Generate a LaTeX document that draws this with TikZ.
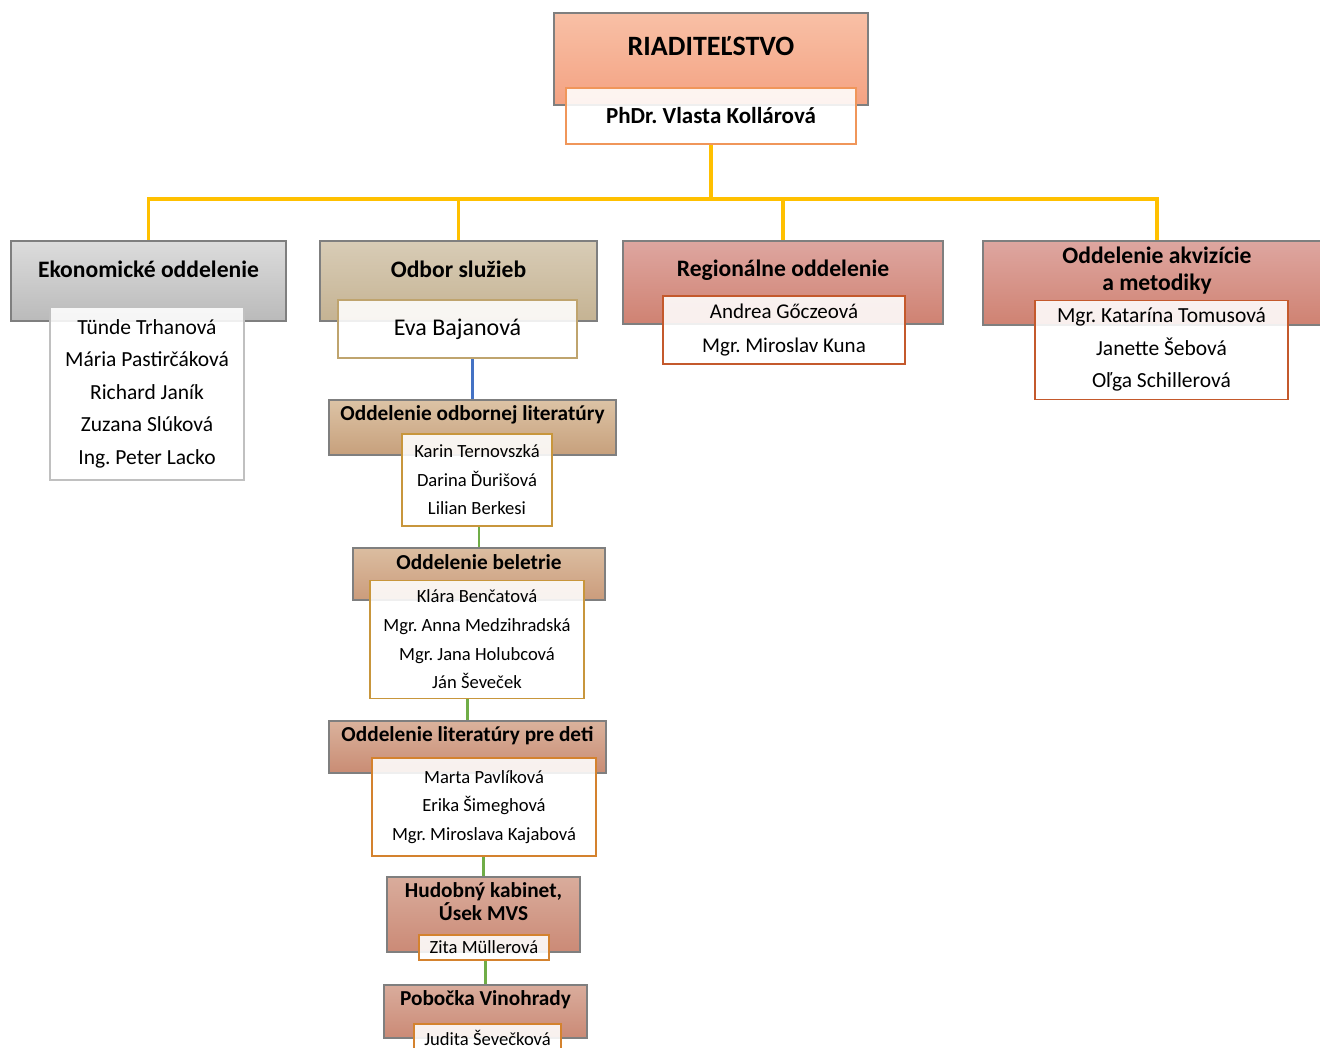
\documentclass[tikz,border=0pt]{standalone}
\usepackage{fontspec}
\setmainfont{Carlito}
\usetikzlibrary{backgrounds}
\frenchspacing
\definecolor{hdrline}{HTML}{7F7F7F}
\definecolor{yel}{HTML}{FFC000}
\definecolor{blu}{HTML}{4472C4}
\definecolor{grn}{HTML}{70AD47}
\definecolor{dirTop}{HTML}{F8C0A6}\definecolor{dirBot}{HTML}{F4A282}\definecolor{dirLn}{HTML}{F0965A}
\definecolor{ekoTop}{HTML}{DCDCDC}\definecolor{ekoBot}{HTML}{BABABA}\definecolor{ekoLn}{HTML}{C0C0C0}
\definecolor{sluTop}{HTML}{D8CCB6}\definecolor{sluBot}{HTML}{C5B393}\definecolor{sluLn}{HTML}{BFA46E}
\definecolor{regTop}{HTML}{DEA6A0}\definecolor{regBot}{HTML}{CF8272}\definecolor{regLn}{HTML}{C4592C}
\definecolor{odbTop}{HTML}{DCC3A5}\definecolor{odbBot}{HTML}{C7A07C}\definecolor{odbLn}{HTML}{C8963C}
\definecolor{belTop}{HTML}{DBBDA0}\definecolor{belBot}{HTML}{CB9C7C}
\definecolor{detTop}{HTML}{DAB29C}\definecolor{detBot}{HTML}{C98C74}\definecolor{detLn}{HTML}{D4822E}
\definecolor{hudTop}{HTML}{D9AC9C}\definecolor{hudBot}{HTML}{CB8A76}
\newcommand{\fs}[2]{\fontsize{#1}{#2}\selectfont}
\tikzset{
  hdr/.style={draw=hdrline, line width=1.2pt, shading=axis, inner sep=0pt},
  pbox/.style={draw=#1, line width=1.2pt, fill=white, fill opacity=0.88, text opacity=1, align=center, inner sep=0pt},
  htext/.style={align=center, inner sep=0pt},
  yline/.style={draw=yel, line width=3.2pt},
  bline/.style={draw=blu, line width=2.6pt},
  gline/.style={draw=grn, line width=2.6pt},
}
\begin{document}
\begin{tikzpicture}[x=1pt,y=-1pt]
\useasboundingbox (0,0) rectangle (1320,1048);
% director
\node[hdr, top color=dirTop, bottom color=dirBot, minimum width=314pt, minimum height=92pt] (dirH) at (711,59) {};
\node[htext, font=\bfseries\fs{28}{32}] (dirT) at (711,46) {RIADITEĽSTVO};
\node[pbox=dirLn, minimum width=290pt, minimum height=56pt, font=\bfseries\fs{23}{27}] (dirP) at (711,116) {PhDr. Vlasta Kollárová};
% level 1
\node[hdr, top color=ekoTop, bottom color=ekoBot, minimum width=275pt, minimum height=80pt] (ekoH) at (148.5,281) {};
\node[htext, font=\bfseries\fs{23.6}{27}] (ekoT) at (148.5,269) {Ekonomické oddelenie};
\node[pbox=ekoLn, minimum width=194pt, minimum height=173pt, font=\fs{21.5}{32.5}] (ekoP) at (147,393.5) {Tünde Trhanová\\Mária Pastirčáková\\Richard Janík\\Zuzana Slúková\\Ing. Peter Lacko};

\node[hdr, top color=sluTop, bottom color=sluBot, minimum width=277pt, minimum height=80pt] (sluH) at (458.5,281) {};
\node[htext, font=\bfseries\fs{23.6}{27}] (sluT) at (458.5,269) {Odbor služieb};
\node[pbox=sluLn, minimum width=239pt, minimum height=58pt, font=\fs{24}{28}] (sluP) at (457.5,329) {Eva Bajanová};

\node[hdr, top color=regTop, bottom color=regBot, minimum width=320pt, minimum height=83pt] (regH) at (783,282.5) {};
\node[htext, font=\bfseries\fs{23.6}{27}] (regT) at (783,270) {Regionálne oddelenie};
\node[pbox=regLn, minimum width=242pt, minimum height=68pt, font=\fs{21}{34}] (regP) at (784,330) {Andrea Gőczeová\\Mgr. Miroslav Kuna};

\node[hdr, top color=regTop, bottom color=regBot, minimum width=348pt, minimum height=84pt] (akvH) at (1157,283) {};
\node[htext, font=\bfseries\fs{23.6}{27}] (akvT) at (1157,271) {Oddelenie akvizície\\a metodiky};
\node[pbox=regLn, minimum width=253pt, minimum height=99pt, font=\fs{21.5}{32.5}] (akvP) at (1161.5,350) {Mgr. Katarína Tomusová\\Janette Šebová\\Oľga Schillerová};
% chain
\node[hdr, top color=odbTop, bottom color=odbBot, minimum width=287pt, minimum height=55pt] (odbH) at (472.5,427.5) {};
\node[htext, font=\bfseries\fs{21.3}{25}] (odbT) at (472.5,414.5) {Oddelenie odbornej literatúry};
\node[pbox=odbLn, minimum width=150pt, minimum height=92pt, font=\fs{18.6}{28.5}] (odbP) at (477,480) {Karin Ternovszká\\Darina Ďurišová\\Lilian Berkesi};

\node[hdr, top color=belTop, bottom color=belBot, minimum width=252pt, minimum height=52pt] (belH) at (479,574) {};
\node[htext, font=\bfseries\fs{21.3}{25}] (belT) at (479,562.5) {Oddelenie beletrie};
\node[pbox=odbLn, minimum width=214pt, minimum height=118pt, font=\fs{18.6}{28.7}] (belP) at (477,639.5) {Klára Benčatová\\Mgr. Anna Medzihradská\\Mgr. Jana Holubcová\\Ján Ševeček};

\node[hdr, top color=detTop, bottom color=detBot, minimum width=277pt, minimum height=52pt] (detH) at (467.5,747) {};
\node[htext, font=\bfseries\fs{21.3}{25}] (detT) at (467.5,735.5) {Oddelenie literatúry pre deti};
\node[pbox=detLn, minimum width=224pt, minimum height=98pt, font=\fs{18.6}{28.5}] (detP) at (484,807) {Marta Pavlíková\\Erika Šimeghová\\Mgr. Miroslava Kajabová};

\node[hdr, top color=hudTop, bottom color=hudBot, minimum width=193pt, minimum height=75pt] (hudH) at (483.5,914.5) {};
\node[htext, font=\bfseries\fs{21.3}{23}] (hudT) at (483.5,902) {Hudobný kabinet,\\Úsek MVS};
\node[pbox=detLn, minimum width=130pt, minimum height=25pt, font=\fs{18.6}{21}] (hudP) at (484,947.5) {Zita Müllerová};

\node[hdr, top color=hudTop, bottom color=hudBot, minimum width=203pt, minimum height=53pt] (pobH) at (485.5,1011.5) {};
\node[htext, font=\bfseries\fs{21.3}{25}] (pobT) at (485.5,999.5) {Pobočka Vinohrady};
\node[pbox=detLn, minimum width=147pt, minimum height=28pt, font=\fs{18.6}{21}] (pobP) at (487.5,1038) {Judita Ševečková};

\coordinate (bus) at (0,199);
\begin{scope}[on background layer]
\fill[white] (0,0) rectangle (1320,1048);
\draw[yline] (dirP.south) -- (dirP.south |- bus);
\draw[yline] (ekoH.north) -- (ekoH.north |- bus) -- (akvH.north |- bus) -- (akvH.north);
\draw[yline] (sluH.north) -- (sluH.north |- bus);
\draw[yline] (regH.north) -- (regH.north |- bus);
\draw[bline] (odbH.north) -- (odbH.north |- sluP.south);
\draw[gline] (belH.north) -- (belH.north |- odbP.south);
\draw[gline] (detH.north) -- (detH.north |- belP.south);
\draw[gline] (hudH.north) -- (hudH.north |- detP.south);
\draw[gline] (pobH.north) -- (pobH.north |- hudP.south);
\end{scope}
\end{tikzpicture}
\end{document}
